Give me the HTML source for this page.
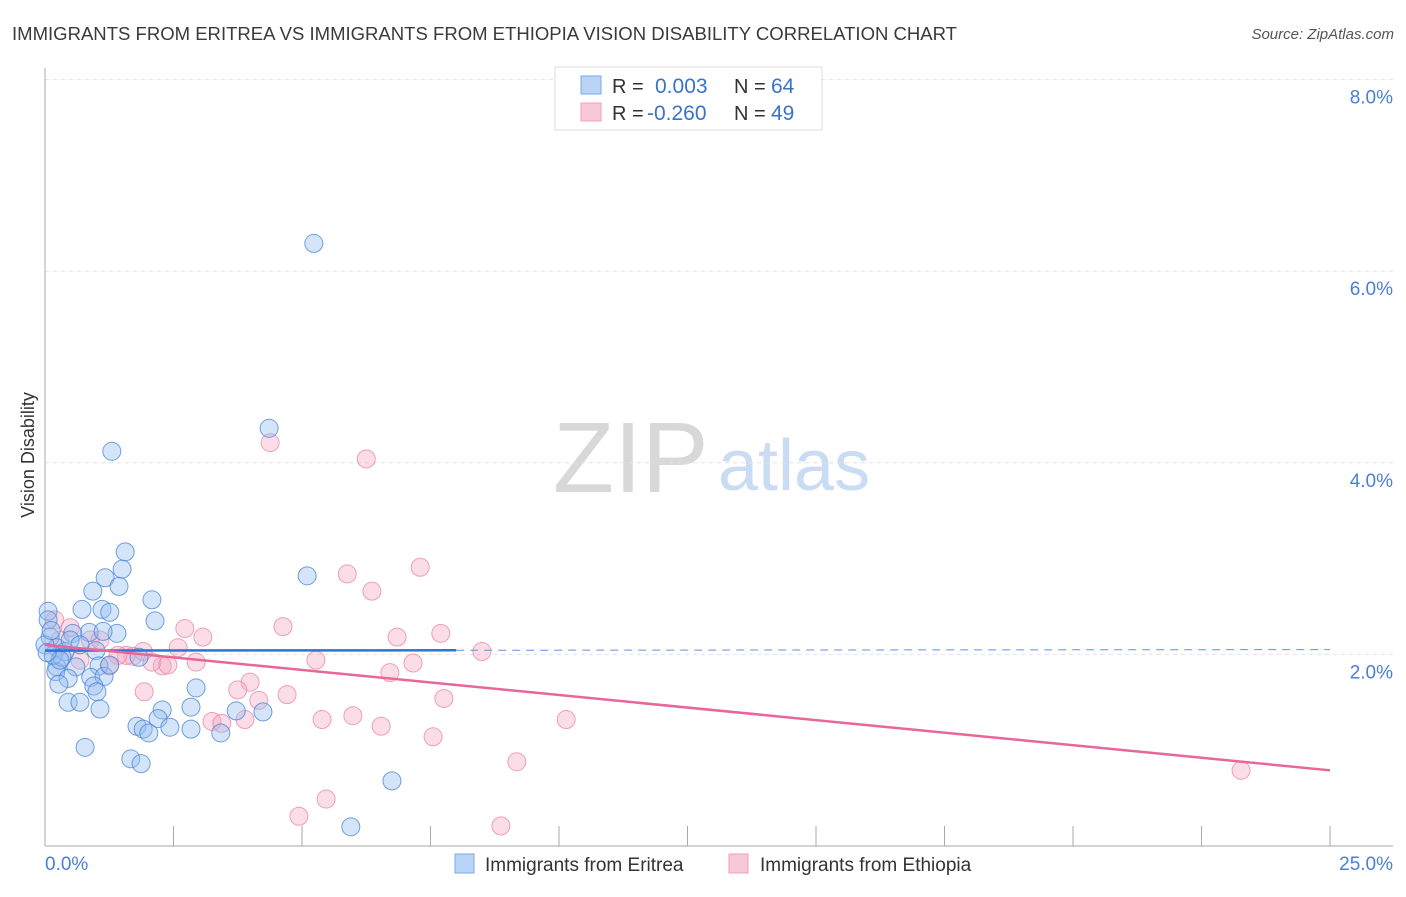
<!DOCTYPE html>
<html><head><meta charset="utf-8"><style>
body{margin:0;background:#fff;font-family:"Liberation Sans",sans-serif;}
svg text{font-family:"Liberation Sans",sans-serif;}
</style></head><body>
<svg id="chart" width="1406" height="892" xmlns="http://www.w3.org/2000/svg">
<text x="12" y="40" font-size="18" fill="#3a3a3a" textLength="945" lengthAdjust="spacingAndGlyphs">IMMIGRANTS FROM ERITREA VS IMMIGRANTS FROM ETHIOPIA VISION DISABILITY CORRELATION CHART</text>
<text x="1394" y="39" font-size="15" fill="#555" text-anchor="end" font-style="italic">Source: ZipAtlas.com</text>
<text transform="translate(34,455) rotate(-90)" font-size="18" fill="#333" text-anchor="middle">Vision Disability</text>
<g>
<text x="553" y="492" font-size="100" fill="#d8d8d8" font-family="Liberation Serif,serif">ZIP</text>
<text x="718" y="490" font-size="72" fill="#c9dcf3">atlas</text>
</g>
<g id="grid"></g>
<g id="axes"></g>
<g id="dots"></g>
<g id="trends"></g>
<g>
<rect x="555" y="67" width="267" height="63" fill="#fff" stroke="#ddd"/>
<rect x="581" y="76" width="20" height="18" fill="#b9d4f7" stroke="#7aa8e6"/>
<rect x="581" y="103" width="20" height="18" fill="#f9c8d7" stroke="#ef9fb9"/>
<text x="612" y="93" font-size="20" fill="#333">R =</text>
<text x="655" y="93" font-size="21" fill="#3a72cc">0.003</text>
<text x="734" y="93" font-size="20" fill="#333">N =</text>
<text x="771" y="93" font-size="21" fill="#3a72cc">64</text>
<text x="612" y="120" font-size="20" fill="#333">R =</text>
<text x="647" y="120" font-size="21" fill="#3a72cc">-0.260</text>
<text x="734" y="120" font-size="20" fill="#333">N =</text>
<text x="771" y="120" font-size="21" fill="#3a72cc">49</text>
</g>
<g>
<rect x="455" y="854" width="19" height="19" fill="#b9d4f7" stroke="#7aa8e6"/>
<text x="485" y="871" font-size="19" fill="#333">Immigrants from Eritrea</text>
<rect x="729" y="854" width="19" height="19" fill="#f9c8d7" stroke="#ef9fb9"/>
<text x="760" y="871" font-size="19" fill="#333">Immigrants from Ethiopia</text>
</g>
</svg>
<script>
const yTicks=[2,4,6,8];
const yTickLabels=["2.0%","4.0%","6.0%","8.0%"];
const xTicks=[0,2.5,5,7.5,10,12.5,15,17.5,20,22.5,25];
const blueX=[5.23,4.36,1.30,1.56,5.10,1.50,1.17,1.44,0.93,2.08,0.72,1.11,1.26,2.14,0.06,0.86,1.40,1.13,0.54,0.06,0.10,0.23,0.39,0.00,0.99,1.83,0.23,0.60,0.21,1.05,0.45,0.89,0.27,1.15,0.95,1.01,2.94,0.45,0.68,1.07,2.28,2.84,3.72,4.24,1.79,1.91,2.02,2.20,2.43,2.84,3.42,0.78,1.67,1.87,6.75,5.95,0.16,0.33,0.49,0.68,0.29,1.26,0.04,0.12];
const blueY=[6.29,4.36,4.12,3.07,2.82,2.89,2.80,2.71,2.66,2.57,2.47,2.47,2.44,2.35,2.45,2.23,2.22,2.24,2.22,2.36,2.18,2.07,2.03,2.10,2.04,1.97,1.87,1.87,1.82,1.88,1.75,1.76,1.69,1.77,1.67,1.61,1.65,1.50,1.50,1.43,1.42,1.45,1.41,1.40,1.25,1.22,1.18,1.33,1.24,1.22,1.18,1.03,0.91,0.86,0.68,0.20,1.99,1.97,2.15,2.10,1.94,1.89,2.02,2.25];
const pinkX=[4.38,6.25,7.30,5.88,6.36,4.63,2.72,3.07,7.70,6.85,8.50,2.59,5.27,7.16,6.71,2.28,2.94,1.71,1.58,1.91,1.42,2.08,2.39,1.25,3.99,3.75,4.71,4.16,1.93,7.76,3.25,3.89,3.44,5.39,5.99,6.54,10.14,7.55,9.18,5.47,4.94,8.87,23.27,0.19,0.49,0.29,0.88,0.68,1.07];
const pinkY=[4.21,4.04,2.91,2.84,2.66,2.29,2.27,2.18,2.22,2.18,2.03,2.07,1.94,1.91,1.81,1.88,1.92,1.98,1.99,2.03,1.99,1.92,1.89,1.88,1.71,1.63,1.58,1.52,1.61,1.54,1.30,1.32,1.28,1.32,1.36,1.25,1.32,1.14,0.88,0.49,0.31,0.21,0.79,2.36,2.28,2.15,2.15,1.94,2.15];
const blueTrend=[2.04,2.05];
const blueSolidEnd=8.0;
const pinkTrend=[2.10,0.79];
const NS="http://www.w3.org/2000/svg";
const X0=45,XS=51.4,Y0=846,YS=95.8;
const xs=v=>X0+v*XS, ys=v=>Y0-v*YS;
function mk(parent,tag,attrs){const e=document.createElementNS(NS,tag);for(const k in attrs)e.setAttribute(k,attrs[k]);document.getElementById(parent).appendChild(e);return e;}
yTicks.forEach((t,i)=>{
 const l=mk('grid','line',{x1:45,x2:1393,y1:ys(t),y2:ys(t),stroke:'#e2e2e2','stroke-dasharray':'4,4'});
 
 
 const tx=mk('grid','text',{x:1393,y:ys(t)+24,'font-size':19,fill:'#4a7fd6','text-anchor':'end'});
 tx.textContent=yTickLabels[i];
 
 
});
const a1=mk('axes','line',{x1:45,x2:45,y1:68,y2:846,stroke:'#aaa'});


const a2=mk('axes','line',{x1:45,x2:1393,y1:846,y2:846,stroke:'#aaa'});


xTicks.forEach(t=>{const l=mk('axes','line',{x1:xs(t),x2:xs(t),y1:826,y2:846,stroke:'#aaa'});
 
 });
const xl0=mk('axes','text',{x:45,y:870,'font-size':19,fill:'#4a7fd6'});xl0.textContent='0.0%';


const xl1=mk('axes','text',{x:1393,y:870,'font-size':19,fill:'#4a7fd6','text-anchor':'end'});xl1.textContent='25.0%';


pinkX.forEach((x,i)=>{const c=mk('dots','circle',{cx:xs(x),cy:ys(pinkY[i]),r:9,fill:'rgba(246,170,195,0.4)',stroke:'rgba(236,130,165,0.75)'});
 
 });
blueX.forEach((x,i)=>{const c=mk('dots','circle',{cx:xs(x),cy:ys(blueY[i]),r:9,fill:'rgba(150,190,240,0.4)',stroke:'rgba(70,130,215,0.75)'});
 
 });
const bAt=x=>blueTrend[0]+(blueTrend[1]-blueTrend[0])*x/25;
const b1=mk('trends','line',{x1:xs(0),y1:ys(bAt(0)),x2:xs(blueSolidEnd),y2:ys(bAt(blueSolidEnd)),stroke:'#2f72d8','stroke-width':2.5});


const b2=mk('trends','line',{x1:xs(blueSolidEnd),y1:ys(bAt(blueSolidEnd)),x2:xs(25),y2:ys(bAt(25)),stroke:'#5b93e0','stroke-width':1,'stroke-dasharray':'8,6'});


const p1=mk('trends','line',{x1:xs(0),y1:ys(pinkTrend[0]),x2:xs(25),y2:ys(pinkTrend[1]),stroke:'#e8679a','stroke-width':2.5});


</script>
</body></html>
